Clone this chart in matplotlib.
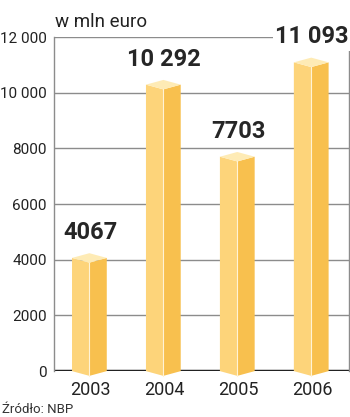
import matplotlib.pyplot as plt

years = ["2003", "2004", "2005", "2006"]
values = [4067, 10292, 7703, 11093]
labels = ["4067", "10 292", "7703", "11 093"]
yticks = [0, 2000, 4000, 6000, 8000, 10000, 12000]
yticklabels = ["0", "2000", "4000", "6000", "8000", "10 000", "12 000"]

LEFT = "#fdd47a"
RIGHT = "#f8c04e"
CAP = "#feebb5"

plt.rcParams['font.family'] = ['Roboto', 'DejaVu Sans']

fig = plt.figure(figsize=(3.5, 4.17), dpi=100)
ax = fig.add_axes((0.154, 0.110, 0.843, 0.801))

hw = 0.235     # half width of a bar, in category units
d = 170        # depth of the top / bottom point, in data units

for i, v in enumerate(values):
    c = i - 0.01
    # left (lit) face
    ax.fill([c - hw, c, c, c - hw], [0, -d, v - d, v], color=LEFT, lw=0, zorder=3, clip_on=False)
    # right (shaded) face
    ax.fill([c, c + hw, c + hw, c], [-d, 0, v, v - d], color=RIGHT, lw=0, zorder=3, clip_on=False)
    # top cap
    ax.fill([c - hw, c, c + hw, c], [v, v - d, v, v + d], color=CAP, lw=0, zorder=3, clip_on=False)
    ax.plot([c, c], [-d, v - d], color="#fff3d6", lw=0.8, zorder=4, clip_on=False)
    ax.annotate(labels[i], (i, v), xytext=(0, 10), textcoords="offset points",
                ha="center", va="bottom", fontsize=17, fontweight="bold",
                color="#262626", zorder=5,
                bbox=dict(boxstyle="square,pad=0.1", fc="white", ec="none"))

for y in yticks[1:]:
    ax.axhline(y, color="#8c8c8c", lw=1.0, zorder=1)
ax.axhline(0, color="#222222", lw=2.5, zorder=2)

ax.set_xlim(-0.49, 3.50)
ax.set_ylim(0, 12000)
ax.set_yticks(yticks)
ax.set_yticklabels(yticklabels)
ax.set_xticks(range(len(years)))
ax.set_xticklabels(years)
ax.tick_params(axis="y", length=0, pad=5, labelsize=11, labelcolor="#222222")
ax.tick_params(axis="x", length=0, pad=7, labelsize=13, labelcolor="#222222")

for s in ["left", "right"]:
    ax.spines[s].set_color("#8c8c8c")
    ax.spines[s].set_linewidth(1.0)
ax.spines["top"].set_visible(False)
ax.spines["bottom"].set_visible(False)

fig.text(0.157, 0.947, "w mln euro", fontsize=13.5, color="#222222", va="center")
fig.text(0.005, 0.019, "Źródło: NBP", fontsize=9.5, color="#333333", va="center")

fig.savefig("out.png", dpi=100)
